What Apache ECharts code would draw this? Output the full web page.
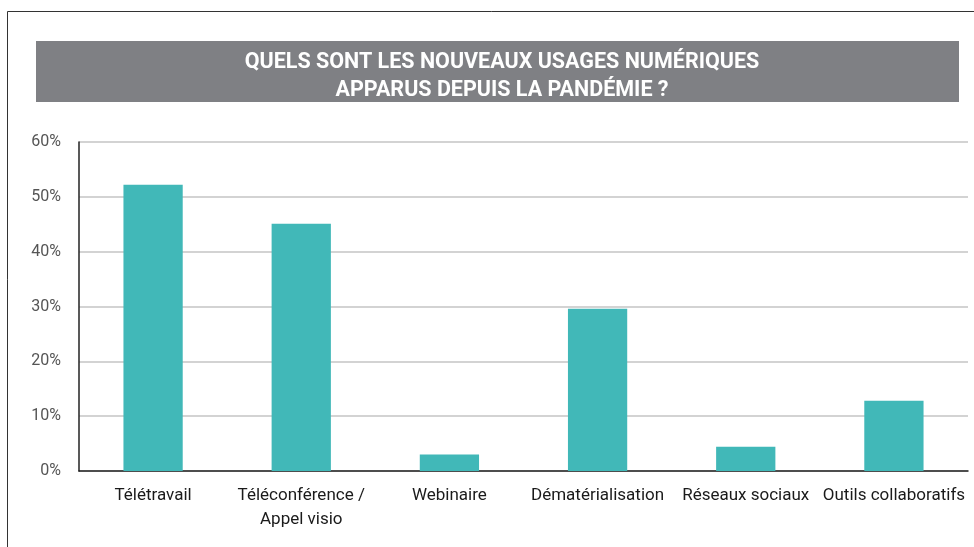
<!DOCTYPE html>
<html>
<head>
<meta charset="utf-8">
<script src="https://cdn.jsdelivr.net/npm/echarts@6/dist/echarts.min.js"></script>
<style>
  html, body { margin: 0; padding: 0; background: #fff; }
  #chart { width: 974px; height: 547px; }
</style>
</head>
<body>
<div id="chart"></div>
<script>
// données
var categories = ['Télétravail', 'Téléconférence /\nAppel visio', 'Webinaire', 'Dématérialisation', 'Réseaux sociaux', 'Outils collaboratifs'];
var values = [52.2, 45.1, 3.0, 29.6, 4.4, 12.8];
var yTicks = [0, 10, 20, 30, 40, 50, 60];

var titleLines = ['QUELS SONT LES NOUVEAUX USAGES NUMÉRIQUES', 'APPARUS DEPUIS LA PANDÉMIE ?'];

var chart = echarts.init(document.getElementById('chart'));

chart.setOption({
    animation: false,
    backgroundColor: '#fff',
    title: {
        text: titleLines.join('\n'),
        left: 497,
        top: 44,
        textAlign: 'center',
        textStyle: {
            color: '#fff',
            fontFamily: 'Roboto',
            fontWeight: 'bold',
            fontSize: 21.5,
            lineHeight: 28
        }
    },
    graphic: [
        {
            // cadre
            type: 'rect',
            z: -10,
            shape: { x: 7.5, y: 11.5, width: 1000, height: 600 },
            style: { fill: 'none', stroke: '#333', lineWidth: 1 }
        },
        {
            // bandeau du titre
            type: 'rect',
            z: -5,
            shape: { x: 36, y: 41, width: 923, height: 61 },
            style: { fill: '#7f8084' }
        }
    ],
    grid: { left: 79, right: 6, top: 142, bottom: 76 },
    xAxis: {
        type: 'category',
        data: categories,
        axisLine: { lineStyle: { color: '#222', width: 1.5 } },
        axisTick: { show: false },
        axisLabel: {
            interval: 0,
            margin: 13,
            color: '#1a1a1a',
            fontFamily: 'Roboto',
            fontSize: 17,
            lineHeight: 24
        }
    },
    yAxis: {
        type: 'value',
        min: yTicks[0],
        max: yTicks[yTicks.length - 1],
        interval: 10,
        axisLine: { show: true, lineStyle: { color: '#222', width: 1.5 } },
        axisTick: { show: false },
        splitLine: { lineStyle: { color: '#c4c4c4', width: 1.5 } },
        axisLabel: {
            margin: 18,
            color: '#555',
            fontFamily: 'Roboto',
            fontSize: 16,
            formatter: function (v) { return v + '%'; }
        }
    },
    series: [{
        type: 'bar',
        data: values,
        barWidth: '40%',
        itemStyle: { color: '#41b8b8' }
    }]
});
</script>
</body>
</html>
